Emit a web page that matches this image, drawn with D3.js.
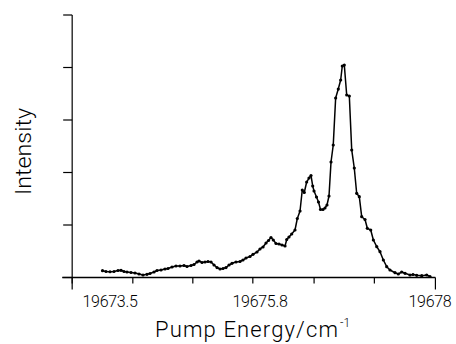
<!DOCTYPE html>
<html>
<head>
<meta charset="utf-8">
<script src="https://cdn.jsdelivr.net/npm/d3@7"></script>
<style>
  html, body { margin: 0; padding: 0; background: #fff; }
  svg { display: block; }
  text { font-family: Roboto, "Liberation Sans", Arial, sans-serif; fill: #000; }
</style>
</head>
<body>
<svg id="chart" width="456" height="344"></svg>
<script>
// ---- data ----
const energy = [
  19673.385, 19673.439, 19673.500, 19673.561, 19673.623, 19673.669, 19673.715, 19673.761,
  19673.822, 19673.883, 19673.945, 19674.006, 19674.067, 19674.113, 19674.175, 19674.221,
  19674.282, 19674.343, 19674.389, 19674.451, 19674.512, 19674.573, 19674.635, 19674.681,
  19674.742, 19674.788, 19674.834, 19674.865, 19674.911, 19674.957, 19675.003, 19675.049,
  19675.095, 19675.141, 19675.187, 19675.233, 19675.279, 19675.325, 19675.371, 19675.432,
  19675.493, 19675.539, 19675.585, 19675.647, 19675.693, 19675.754, 19675.800, 19675.839,
  19675.878, 19675.910, 19675.942, 19675.972, 19676.007, 19676.046, 19676.085, 19676.124,
  19676.146, 19676.175, 19676.210, 19676.253, 19676.283, 19676.318, 19676.347, 19676.373,
  19676.404, 19676.434, 19676.460, 19676.482, 19676.499, 19676.531, 19676.557, 19676.583,
  19676.615, 19676.641, 19676.667, 19676.693, 19676.719, 19676.748, 19676.779, 19676.813,
  19676.844, 19676.865, 19676.891, 19676.922, 19676.956, 19676.987, 19677.020, 19677.051,
  19677.085, 19677.116, 19677.159, 19677.189, 19677.233, 19677.267, 19677.311, 19677.353,
  19677.396, 19677.440, 19677.482, 19677.547, 19677.590, 19677.634, 19677.677, 19677.741,
  19677.780, 19677.828, 19677.893, 19677.957, 19678.000
];
const intensity = [
  0.130, 0.114, 0.110, 0.114, 0.133, 0.137, 0.114, 0.105,
  0.095, 0.086, 0.067, 0.048, 0.061, 0.076, 0.105, 0.133,
  0.143, 0.162, 0.171, 0.200, 0.219, 0.219, 0.229, 0.210,
  0.229, 0.248, 0.295, 0.314, 0.286, 0.295, 0.305, 0.295,
  0.238, 0.190, 0.162, 0.171, 0.190, 0.238, 0.270, 0.295,
  0.305, 0.333, 0.371, 0.400, 0.442, 0.486, 0.543, 0.581,
  0.657, 0.705, 0.762, 0.714, 0.648, 0.638, 0.619, 0.600,
  0.724, 0.771, 0.829, 0.905, 1.124, 1.267, 1.667, 1.619,
  1.819, 1.895, 1.943, 1.743, 1.648, 1.533, 1.438, 1.295,
  1.295, 1.324, 1.381, 1.552, 2.200, 2.524, 3.419, 3.590,
  3.762, 4.029, 4.048, 3.476, 3.457, 2.429, 2.086, 1.604,
  1.539, 1.158, 1.105, 0.937, 0.905, 0.714, 0.587, 0.491,
  0.333, 0.206, 0.143, 0.091, 0.067, 0.105, 0.080, 0.048,
  0.057, 0.042, 0.034, 0.048, 0.019
];
const xTickValues = [19672.92, 19673.85, 19674.77, 19675.69, 19676.50, 19677.28, 19678.07];
const xLabelValues = [19673.5, 19675.8, 19678];
const xLabelText = ["19673.5", "19675.8", "19678"];
const yTickValues = [0, 1, 2, 3, 4, 5];
const xTitle = "Pump Energy/cm";
const xTitleSup = "-1";
const yTitle = "Intensity";

// ---- scales ----
const x = d3.scaleLinear()
  .domain([19673.5, 19675.8, 19678])
  .range([110, 260, 430]);
const y = d3.scaleLinear().domain([0, 5]).range([277.5, 15]);

const svg = d3.select("#chart");
const data = energy.map((e, i) => ({ e, v: intensity[i] }));

const axisColor = "#000";
const x0 = x(xTickValues[0]);
const xEnd = x(xTickValues[xTickValues.length - 1]);

// y axis line (extends a little below the baseline like the reference)
svg.append("line")
  .attr("x1", x0).attr("x2", x0)
  .attr("y1", y(5)).attr("y2", y(0) + 12)
  .attr("stroke", axisColor).attr("stroke-width", 1.2);

// y ticks (pointing left)
svg.append("g").selectAll("line").data(yTickValues).join("line")
  .attr("x1", x0 - 9).attr("x2", x0)
  .attr("y1", d => y(d)).attr("y2", d => y(d))
  .attr("stroke", axisColor).attr("stroke-width", 1.2);

// x axis line
svg.append("line")
  .attr("x1", x0 - 10).attr("x2", xEnd)
  .attr("y1", y(0)).attr("y2", y(0))
  .attr("stroke", axisColor).attr("stroke-width", 1.4);

// x ticks (pointing down)
svg.append("g").selectAll("line").data(xTickValues).join("line")
  .attr("x1", d => x(d)).attr("x2", d => x(d))
  .attr("y1", y(0)).attr("y2", (d, i) => y(0) + (i === xTickValues.length - 1 ? 12 : 6))
  .attr("stroke", axisColor).attr("stroke-width", 1.2);

// x tick labels
svg.append("g").selectAll("text").data(xLabelValues).join("text")
  .attr("x", d => x(d))
  .attr("y", 307)
  .attr("text-anchor", "middle")
  .attr("font-size", 16)
  .attr("font-weight", 300)
  .attr("letter-spacing", -0.3)
  .text((d, i) => xLabelText[i]);

// x title
svg.append("text")
  .attr("x", 155)
  .attr("y", 337)
  .attr("font-size", 22)
  .attr("font-weight", 300)
  .attr("textLength", 183)
  .attr("lengthAdjust", "spacing")
  .text(xTitle);
svg.append("text")
  .attr("x", 340)
  .attr("y", 327)
  .attr("font-size", 12)
  .attr("font-weight", 300)
  .text(xTitleSup);

// y title
svg.append("text")
  .attr("transform", "translate(31,151.5) rotate(-90)")
  .attr("text-anchor", "middle")
  .attr("font-size", 22)
  .attr("font-weight", 300)
  .attr("textLength", 87)
  .attr("lengthAdjust", "spacingAndGlyphs")
  .text(yTitle);

// data line
const line = d3.line().x(d => x(d.e)).y(d => y(d.v));
svg.append("path")
  .datum(data)
  .attr("d", line)
  .attr("fill", "none")
  .attr("stroke", "#000")
  .attr("stroke-width", 1.5)
  .attr("stroke-linejoin", "round");

svg.append("g").selectAll("circle").data(data).join("circle")
  .attr("cx", d => x(d.e))
  .attr("cy", d => y(d.v))
  .attr("r", 1.6)
  .attr("fill", "#000");
</script>
</body>
</html>
